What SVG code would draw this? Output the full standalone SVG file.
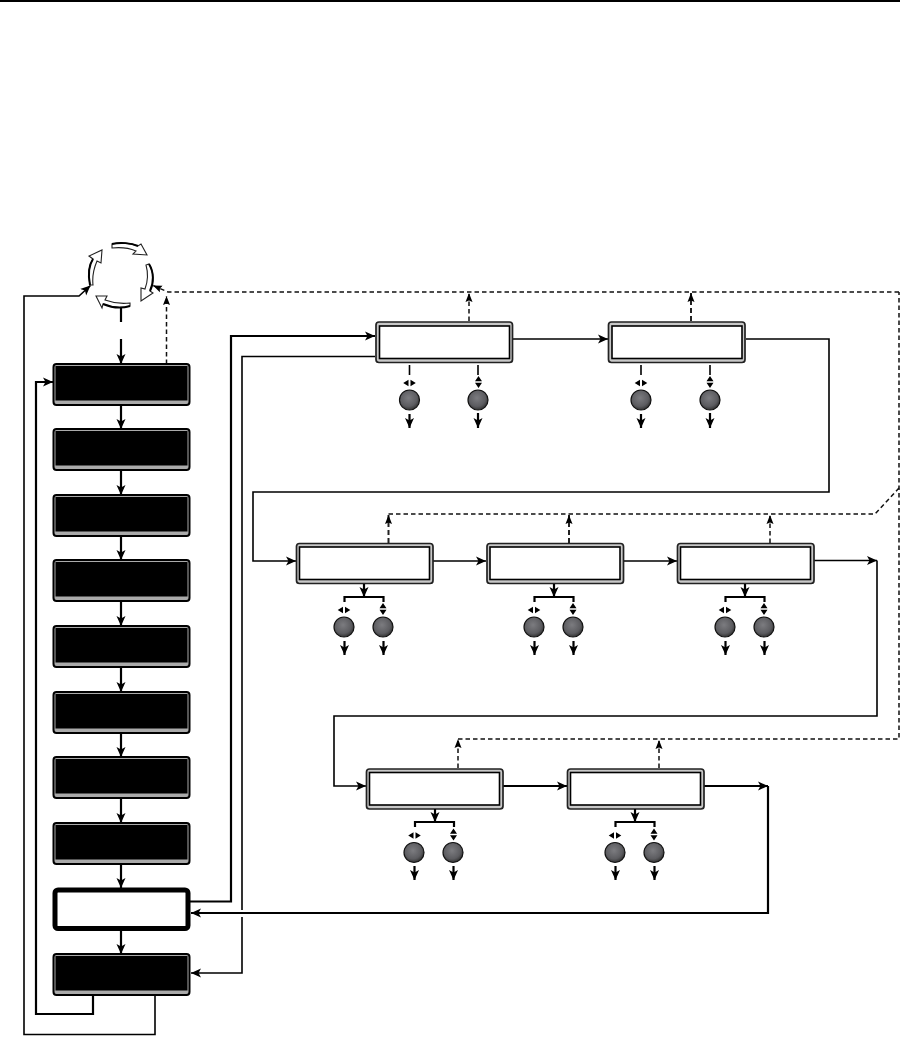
<svg xmlns="http://www.w3.org/2000/svg" width="900" height="1037" viewBox="0 0 900 1037">
<style>
.b{fill:#aaa;stroke:#000;stroke-width:2}
.i{fill:#000}
.w{fill:#c8c8c8;stroke:#222;stroke-width:1.7}
.wi{fill:#fff;stroke:#000;stroke-width:1.6}
.l{fill:none;stroke:#000;stroke-width:1.6}
.t{fill:none;stroke:#000;stroke-width:2.2}
.d{fill:none;stroke:#111;stroke-width:1.5;stroke-dasharray:4.500 3}
.dk{fill:none;stroke:#222;stroke-width:2;stroke-dasharray:5 3}
.bt{fill:url(#g);stroke:#111;stroke-width:1.2}
.h{fill:#000}
.c{fill:#fff;stroke:#222;stroke-width:1.1}
.o{fill:none;stroke:#000;stroke-width:2}
</style>
<defs>
<radialGradient id="g" cx="0.45" cy="0.4" r="0.6"><stop offset="0" stop-color="#7c7c80"/><stop offset="0.7" stop-color="#5c5c60"/><stop offset="1" stop-color="#333"/></radialGradient>
<marker id="a" markerWidth="12" markerHeight="10" refX="10" refY="5" orient="auto" markerUnits="userSpaceOnUse"><path class="h" d="M0 .5L10 5L0 9.500L2.500 5Z"/></marker>
<marker id="s" markerWidth="10" markerHeight="8" refX="9" refY="4" orient="auto" markerUnits="userSpaceOnUse"><path class="h" d="M0 .5L9 4L0 7.500L1.500 4Z"/></marker>
<g id="lr"><path class="h" d="M-1 -3.200V3.200L-6.300 0ZM1 -3.200V3.200L6.300 0Z"/></g>
<g id="ud"><path class="h" d="M-3.500 -.8H3.500L0 -6ZM-3.500 .8H3.500L0 6Z"/></g>
</defs>
<rect width="900" height="2" fill="#000"/>
<g id="connectors">
<path class="t" d="M121 308V322" />
<path class="t" d="M121 339V364" marker-end="url(#a)"/>
<path class="t" d="M121 405V429" marker-end="url(#a)"/>
<path class="t" d="M121 470V495" marker-end="url(#a)"/>
<path class="t" d="M121 536V560" marker-end="url(#a)"/>
<path class="t" d="M121 601V626" marker-end="url(#a)"/>
<path class="t" d="M121 667V692" marker-end="url(#a)"/>
<path class="t" d="M121 733V757" marker-end="url(#a)"/>
<path class="t" d="M121 798V823" marker-end="url(#a)"/>
<path class="t" d="M121 864V888" marker-end="url(#a)"/>
<path class="t" d="M121 930V954" marker-end="url(#a)"/>
<path class="l" d="M155 995V1034.500H24V296H79L90.500 285.500" marker-end="url(#a)"/>
<path class="t" d="M93 995V1014H36V382H53" marker-end="url(#a)"/>
<path class="d" d="M166.500 364V296" marker-end="url(#s)"/>
<path class="d" d="M899 292H168L153 285.500" marker-end="url(#s)"/>
<path class="t" d="M190 901.500H231V336H375" marker-end="url(#a)"/>
<path class="l" d="M375 356.500H242V910M242 917V973H191" marker-end="url(#a)"/>
<path class="t" d="M768 786V913H191" marker-end="url(#a)"/>
<path class="d" d="M469 321V293" marker-end="url(#s)"/>
<path class="dk" d="M691 321V293" marker-end="url(#s)"/>
<path class="l" d="M513 339H608" marker-end="url(#a)"/>
<path class="l" d="M746 339H829V492H253V561H296" marker-end="url(#a)"/>
<path class="dk" d="M388.500 543V515" marker-end="url(#s)"/>
<path class="d" d="M388.500 514H875L899 488"/>
<path class="dk" d="M569 543V515" marker-end="url(#s)"/>
<path class="d" d="M770 543V515" marker-end="url(#s)"/>
<path class="l" d="M433 561H486" marker-end="url(#a)"/>
<path class="l" d="M623 561H677" marker-end="url(#a)"/>
<path class="l" d="M814 560.500H877" marker-end="url(#a)"/>
<path class="l" d="M877 560.500V716H334V786H366" marker-end="url(#a)"/>
<path class="d" d="M458 768V739" marker-end="url(#s)"/>
<path class="d" d="M458 739H899V292"/>
<path class="d" d="M659 768V740" marker-end="url(#s)"/>
<path class="t" d="M503 786H567" marker-end="url(#a)"/>
<path class="t" d="M704 786H768" marker-end="url(#a)"/>
</g>
<g id="cycle">
<path class="c" d="M112 244C120 242 131 243 138 246L141 244L147 255L133 254L136 251C129 248 121 247 112 248Z"/>
<path class="o" d="M112 244C120 242 131 243 138 246"/>
<path class="c" d="M149 264C154 272 154 283 150 291L153 293L141 301L141 288L145 289C148 281 148 272 146 265Z"/>
<path class="o" d="M149 264C154 272 154 283 150 291"/>
<path class="c" d="M130 306C120 309 110 307 103 304L102 308L96 296L107 296L105 300C113 303 121 304 130 303Z"/>
<path class="o" d="M130 306C120 309 110 307 103 304"/>
<path class="c" d="M90 285C88 275 89 265 93 259L89 256L102 250L101 263L97 261C94 268 92 276 93 285Z"/>
<path class="o" d="M90 285C88 275 89 265 93 259"/>
</g>
<g id="n1"><rect class="b" x="53.500" y="364" width="136" height="41" rx="3"/><rect class="i" x="55.500" y="366" width="132" height="34.500"/></g>
<g id="n2"><rect class="b" x="53.500" y="429" width="136" height="41" rx="3"/><rect class="i" x="55.500" y="431" width="132" height="34.500"/></g>
<g id="n3"><rect class="b" x="53.500" y="495" width="136" height="41" rx="3"/><rect class="i" x="55.500" y="497" width="132" height="34.500"/></g>
<g id="n4"><rect class="b" x="53.500" y="560" width="136" height="41" rx="3"/><rect class="i" x="55.500" y="562" width="132" height="34.500"/></g>
<g id="n5"><rect class="b" x="53.500" y="626" width="136" height="41" rx="3"/><rect class="i" x="55.500" y="628" width="132" height="34.500"/></g>
<g id="n6"><rect class="b" x="53.500" y="692" width="136" height="41" rx="3"/><rect class="i" x="55.500" y="694" width="132" height="34.500"/></g>
<g id="n7"><rect class="b" x="53.500" y="757" width="136" height="41" rx="3"/><rect class="i" x="55.500" y="759" width="132" height="34.500"/></g>
<g id="n8"><rect class="b" x="53.500" y="823" width="136" height="41" rx="3"/><rect class="i" x="55.500" y="825" width="132" height="34.500"/></g>
<g id="n9"><rect x="55" y="890" width="133" height="38.500" rx="3" fill="#fff" stroke="#000" stroke-width="5"/></g>
<g id="n10"><rect class="b" x="53.500" y="954" width="136" height="41" rx="3"/><rect class="i" x="55.500" y="956" width="132" height="34.500"/></g>
<g id="m1"><rect class="w" x="376" y="322" width="136.500" height="40.500" rx="3"/><rect class="wi" x="379.500" y="326" width="130" height="32.500"/></g>
<g id="m2"><rect class="w" x="608.500" y="322" width="136.500" height="40.500" rx="3"/><rect class="wi" x="612" y="326" width="130" height="32.500"/></g>
<g id="m3"><rect class="w" x="296.500" y="543.500" width="136.500" height="40" rx="3"/><rect class="wi" x="299.500" y="547" width="130" height="32.500"/></g>
<g id="m4"><rect class="w" x="487" y="543.500" width="136.500" height="40" rx="3"/><rect class="wi" x="490" y="547" width="130" height="32.500"/></g>
<g id="m5"><rect class="w" x="677.500" y="543.500" width="136.500" height="40" rx="3"/><rect class="wi" x="680.500" y="547" width="130" height="32.500"/></g>
<g id="m6"><rect class="w" x="366.500" y="769" width="136.500" height="40" rx="3"/><rect class="wi" x="369.500" y="772.500" width="130" height="32.500"/></g>
<g id="m7"><rect class="w" x="567.500" y="769" width="136.500" height="40" rx="3"/><rect class="wi" x="570.500" y="772.500" width="130" height="32.500"/></g>
<g id="controls">
<path class="l" d="M409.500 365V375M478 365V375M641 365V375M710 365V375"/>
<use href="#lr" x="409.500" y="383"/><use href="#ud" x="478.500" y="382"/><use href="#lr" x="641" y="383"/><use href="#ud" x="710" y="382"/>
<circle class="bt" cx="409.500" cy="400" r="10"/><circle class="bt" cx="478" cy="400" r="10"/><circle class="bt" cx="641" cy="400" r="10"/><circle class="bt" cx="710" cy="400" r="10"/>
<path class="t" d="M409.500 414V428" marker-end="url(#a)"/><path class="t" d="M478 413V428" marker-end="url(#a)"/><path class="t" d="M641 414V428" marker-end="url(#a)"/><path class="t" d="M710 413V428" marker-end="url(#a)"/>
<path class="t" d="M364 584V597" marker-end="url(#a)"/><path class="t" d="M344.500 602V597H383.500V602"/>
<path class="t" d="M554 584V597" marker-end="url(#a)"/><path class="t" d="M534.500 602V597H573.500V602"/>
<path class="t" d="M745 584V597" marker-end="url(#a)"/><path class="t" d="M725.500 602V597H764.500V602"/>
<use href="#lr" x="344" y="610"/><use href="#ud" x="383" y="609"/><use href="#lr" x="534" y="610"/><use href="#ud" x="573" y="609"/><use href="#lr" x="725" y="610"/><use href="#ud" x="764" y="609"/>
<circle class="bt" cx="344" cy="627" r="10"/><circle class="bt" cx="383" cy="627" r="10"/><circle class="bt" cx="534" cy="627" r="10"/><circle class="bt" cx="573" cy="627" r="10"/><circle class="bt" cx="725" cy="627" r="10"/><circle class="bt" cx="764" cy="627" r="10"/>
<path class="t" d="M344.500 641V655" marker-end="url(#a)"/><path class="t" d="M383.500 641V655" marker-end="url(#a)"/><path class="t" d="M534.500 641V655" marker-end="url(#a)"/><path class="t" d="M573.500 641V655" marker-end="url(#a)"/><path class="t" d="M725.500 641V655" marker-end="url(#a)"/><path class="t" d="M764.500 641V655" marker-end="url(#a)"/>
<path class="t" d="M435 809V822" marker-end="url(#a)"/><path class="t" d="M415 827V822H454V827"/>
<path class="t" d="M635 809V822" marker-end="url(#a)"/><path class="t" d="M615.500 827V822H654.500V827"/>
<use href="#lr" x="414.500" y="835.500"/><use href="#ud" x="453.500" y="834.500"/><use href="#lr" x="615" y="835.500"/><use href="#ud" x="654" y="834.500"/>
<circle class="bt" cx="414" cy="852.500" r="10"/><circle class="bt" cx="453" cy="852.500" r="10"/><circle class="bt" cx="615" cy="852.500" r="10"/><circle class="bt" cx="654" cy="852.500" r="10"/>
<path class="t" d="M414.500 866V880" marker-end="url(#a)"/><path class="t" d="M453.500 866V880" marker-end="url(#a)"/><path class="t" d="M615.500 866V880" marker-end="url(#a)"/><path class="t" d="M654.500 866V880" marker-end="url(#a)"/>
</g>
</svg>
